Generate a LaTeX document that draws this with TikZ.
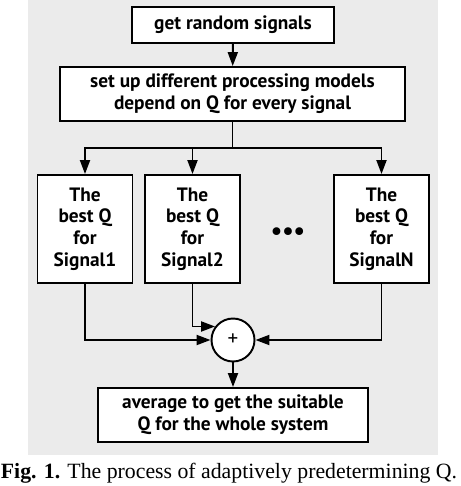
\documentclass[tikz,border=0pt]{standalone}
\usepackage{fontspec}
\setmainfont{Liberation Serif}
\setsansfont{PT Sans}
\usetikzlibrary{arrows.meta}
\tikzset{
  blk/.style={draw,fill=white,align=center,inner sep=0pt,
    font=\sffamily\bfseries\fontsize{11}{12.4}\selectfont},
  sig/.style={blk,minimum width=1.9cm,minimum height=2.16cm},
}
\begin{document}
\begin{tikzpicture}[x=0.02cm,y=-0.02cm,line width=1.1pt,>={Triangle[length=0.28cm,width=0.2cm]}]
			\useasboundingbox (0,0) rectangle (460,486);
			\fill[black!8] (28,0) rectangle (438,455);
			\node[blk,minimum width=4.04cm,minimum height=0.72cm] (get) at (233,25) {get random signals};
			\node[blk,minimum width=6.9cm,minimum height=1.08cm] (models) at (232.5,94)
				{set up different processing models\\depend on Q for every signal};
			\node[sig] (s1) at (85,229) {The\\best Q\\for\\Signal1};
			\node[sig] (s2) at (192.5,229) {The\\best Q\\for\\Signal2};
			\node[sig] (sN) at (381.5,229) {The\\best Q\\for\\SignalN};
			\node[font=\sffamily\bfseries\Large] (dots) at (288,234) {•••};
			\node[draw,circle,fill=white,minimum size=0.86cm,inner sep=0pt,font=\sffamily\large] (sum) at (233,340) {+};
			\node[blk,minimum width=5.4cm,minimum height=1.08cm] (avg) at (233,415)
				{average to get the suitable\\Q for the whole system};
			\coordinate (split) at (232.5,148);
			\node[anchor=base,font=\fontsize{12.4}{14}\selectfont] (cap) at (229,478)
				{\textbf{Fig. 1.} The process of adaptively predetermining Q.};
			\draw[->] (get) -- (models);
			\draw (models) -- (split);
			\draw[->] (split) -| (s1);
			\draw[->] (split) -| (s2);
			\draw[->] (split) -| (sN);
			\draw[->] (s1) |- (sum.west);
			\draw[->] (s2) |- (sum.143);
			\draw[->] (sN) |- (sum.east);
			\draw[->] (sum) -- (avg);
	\end{tikzpicture}
\end{document}
